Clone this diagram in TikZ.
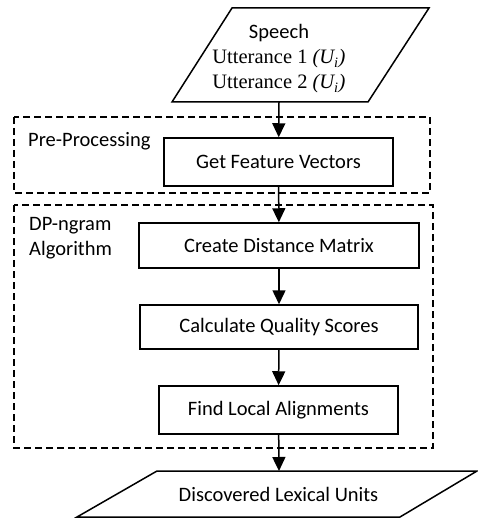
\documentclass[tikz,border=0pt]{standalone}
\usepackage{fontspec}
\setmainfont{Carlito}
\newfontfamily\uttfont{Liberation Serif}
\usepackage{tikz}
\usetikzlibrary{arrows.meta}
\usetikzlibrary{positioning}
\tikzset{
process box/.style = { rectangle, draw = black, fill = white, line width = 1.5pt, font = \fontsize{20.5}{25}\selectfont, inner sep = 0pt },
io shape/.style = { draw = black, fill = white, line width = 1.5pt, line join = miter },
io text/.style = { align = center, inner sep = 0pt, font = \fontsize{20.5}{25}\selectfont },
group box/.style = { draw = black, dashed, dash pattern = on 7pt off 4pt, line width = 1.5pt },
group label/.style = { anchor = west, align = left, inner sep = 0pt, font = \fontsize{20.5}{25}\selectfont },
}
\begin{document}
\begin{tikzpicture}[x=1pt, y=-1pt]
    \useasboundingbox (0,0) rectangle (477,518);
    % input and output
    \draw[io shape] (232,8) -- (429,8) -- (368,102) -- (172,102) -- cycle;
    \node[io text] (speech) at (279,59) {Speech\\
      {\uttfont Utterance 1 \textit{(U\textsubscript{i})}}\\
      {\uttfont Utterance 2 \textit{(U\textsubscript{i})}}};
    \coordinate (speech out) at (279,102);
    \draw[io shape] (157,471) -- (477,471) -- (400,517) -- (77,517) -- cycle;
    \node[io text] (units) at (278.5,494) {Discovered Lexical Units};
    \coordinate (units in) at (279,471);
    % groups
    \draw[group box] (14,117) rectangle (430,193);
    \node[group label] (prelbl) at (28,141) {Pre-Processing};
    \draw[group box] (14,205) rectangle (433,448);
    \node[group label] (dplbl) at (29,238) {DP-ngram\\Algorithm};
    % steps
    \node[process box, minimum width = 229pt, minimum height = 48pt] (feat) at (278.5,162) {Get Feature Vectors};
    \node[process box, minimum width = 280pt, minimum height = 45pt] (dist) at (279,245.5) {Create Distance Matrix};
    \node[process box, minimum width = 278pt, minimum height = 44pt] (qual) at (279,327) {Calculate Quality Scores};
    \node[process box, minimum width = 239pt, minimum height = 48pt] (align) at (278.5,410) {Find Local Alignments};
    \begin{scope}[>={Triangle[width=13pt, length=14pt]},
                  every edge/.style={draw=black, line width=1.5pt}]
      \path [->] (speech out) edge (feat);
      \path [->] (feat) edge (dist);
      \path [->] (dist) edge (qual);
      \path [->] (qual) edge (align);
      \path [->] (align) edge (units in);
    \end{scope}
\end{tikzpicture}
\end{document}
